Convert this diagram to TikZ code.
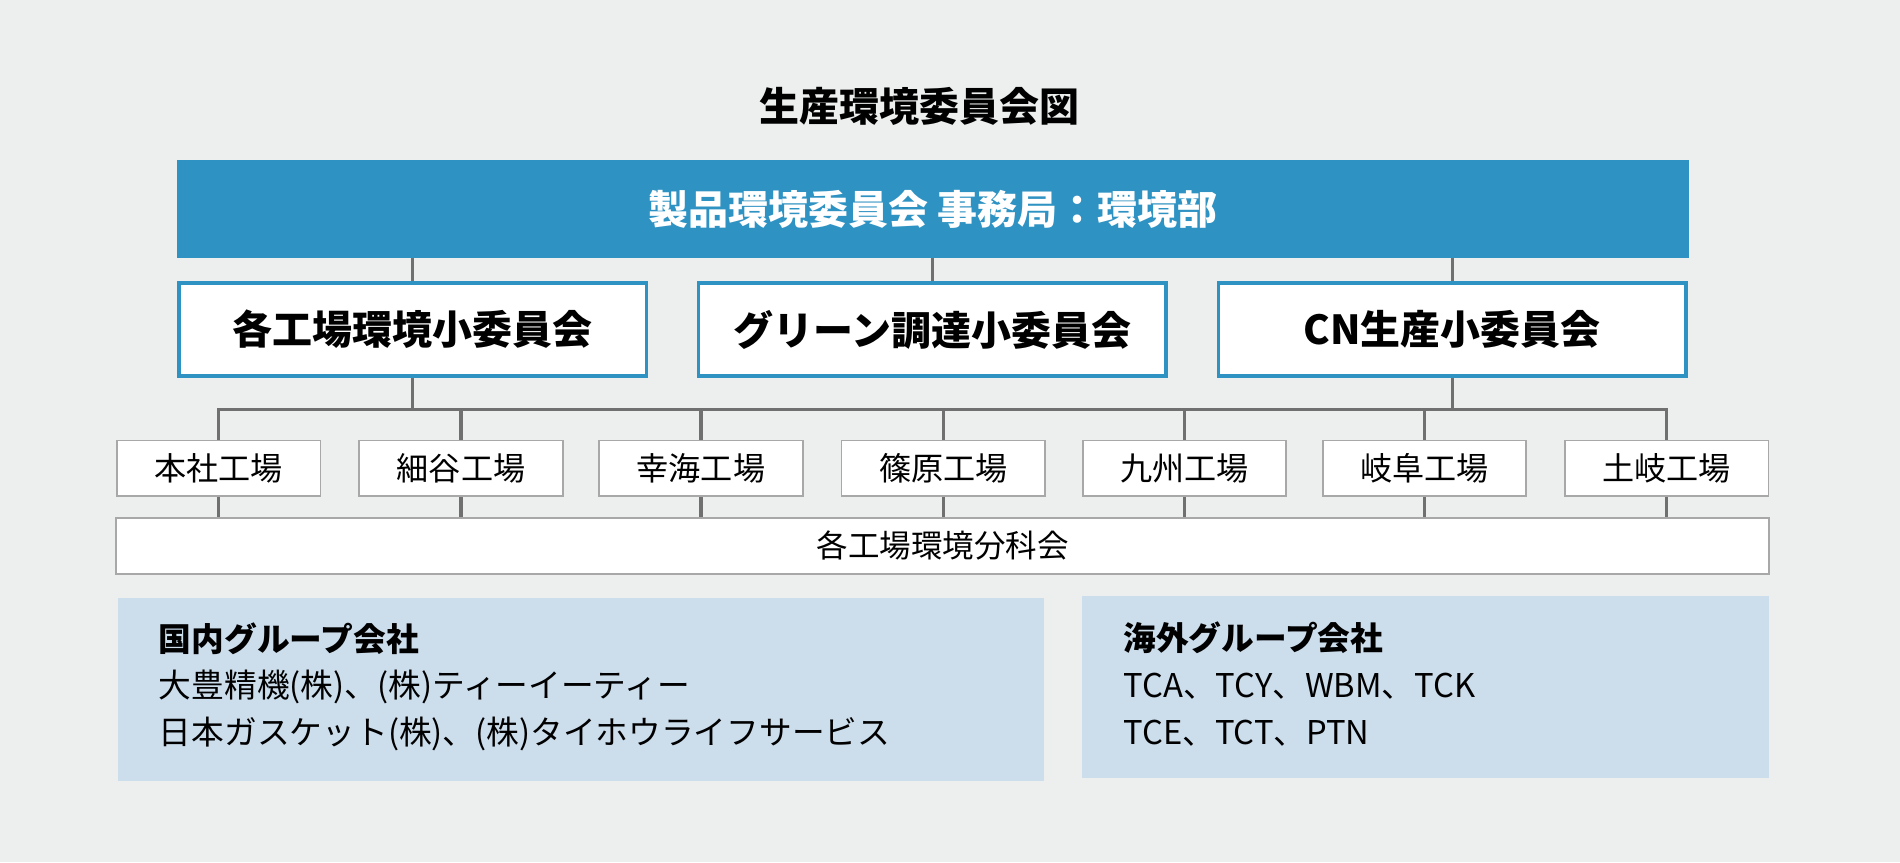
\documentclass[tikz,border=0pt]{standalone}
\usepackage{fontspec}
\setmainfont{Noto Sans CJK JP}
\definecolor{bgc}{HTML}{EDEFEE}
\definecolor{bandc}{HTML}{2E92C3}
\definecolor{linec}{HTML}{707070}
\definecolor{fboxc}{HTML}{A8A8A8}
\definecolor{grpc}{HTML}{CCDDEC}
\begin{document}
\begin{tikzpicture}[x=1pt,y=-1pt,
  conn/.style={draw=linec,line width=2.8pt},
  subbox/.style={draw=bandc,line width=3pt,fill=white,minimum width=386pt,minimum height=77pt,inner sep=0pt,font=\fontsize{33}{38}\selectfont\bfseries},
  facbox/.style={draw=fboxc,line width=1.5pt,fill=white,minimum width=168pt,minimum height=46pt,inner sep=0pt,font=\fontsize{26.5}{30}\selectfont},
  grpbox/.style={fill=grpc,inner sep=0pt,anchor=north west},
  grptext/.style={anchor=west,inner sep=0pt,font=\fontsize{27}{31}\selectfont},
]
\useasboundingbox[fill=bgc] (0,0) rectangle (1568,711.4);
\node[font=\fontsize{33}{38}\selectfont\bfseries,inner sep=0pt] (title) at (759,88) {生産環境委員会図};
\node[fill=bandc,minimum width=1248pt,minimum height=81pt,inner sep=0pt,text=white,font=\fontsize{33}{38}\selectfont\bfseries] (band) at (770,172.5) {製品環境委員会 事務局：環境部};
\node[subbox] (s1) at (340.5,272) {各工場環境小委員会};
\node[subbox] (s2) at (769.5,272) {グリーン調達小委員会};
\node[subbox] (s3) at (1198.5,272) {CN生産小委員会};
\foreach \n in {1,2,3}{\draw[conn] (band.south -| s\n.north) -- (s\n.north);}
\node[facbox] (f1) at (180.5,386.5) {本社工場};
\node[facbox] (f2) at (380.5,386.5) {細谷工場};
\node[facbox] (f3) at (578.5,386.5) {幸海工場};
\node[facbox] (f4) at (778.5,386.5) {篠原工場};
\node[facbox] (f5) at (977.5,386.5) {九州工場};
\node[facbox] (f6) at (1175.5,386.5) {岐阜工場};
\node[facbox] (f7) at (1375.5,386.5) {土岐工場};
\node[draw=fboxc,line width=1.5pt,fill=white,minimum width=1364pt,minimum height=46pt,inner sep=0pt,font=\fontsize{26}{30}\selectfont] (bun) at (778,450.5) {各工場環境分科会};
\coordinate (hl) at (180.5,338);
\coordinate (hr) at (1375.5,338);
\draw[conn] (s1.south) -- (s1.south |- hl);
\draw[conn] (s3.south) -- (s3.south |- hl);
\draw[conn,line cap=rect] (hl) -- (hr);
\foreach \n in {1,...,7}{
  \draw[conn] (f\n.north |- hl) -- (f\n.north);
  \draw[conn] (f\n.south) -- (f\n.south |- bun.north);
}
\node[grpbox,minimum width=764pt,minimum height=151pt] (dom) at (97,493) {};
\node[grptext,font=\fontsize{27}{31}\selectfont\bfseries] (d1) at (131,527) {国内グループ会社};
\node[grptext] (d2) at (131,567) {大豊精機(株)、(株)ティーイーティー};
\node[grptext] (d3) at (131,606) {日本ガスケット(株)、(株)タイホウライフサービス};
\node[grpbox,minimum width=567pt,minimum height=150pt] (ovs) at (893,492) {};
\node[grptext,font=\fontsize{27}{31}\selectfont\bfseries] (o1) at (927,526) {海外グループ会社};
\node[grptext] (o2) at (927,566) {TCA、TCY、WBM、TCK};
\node[grptext] (o3) at (927,605) {TCE、TCT、PTN};
\end{tikzpicture}
\end{document}
